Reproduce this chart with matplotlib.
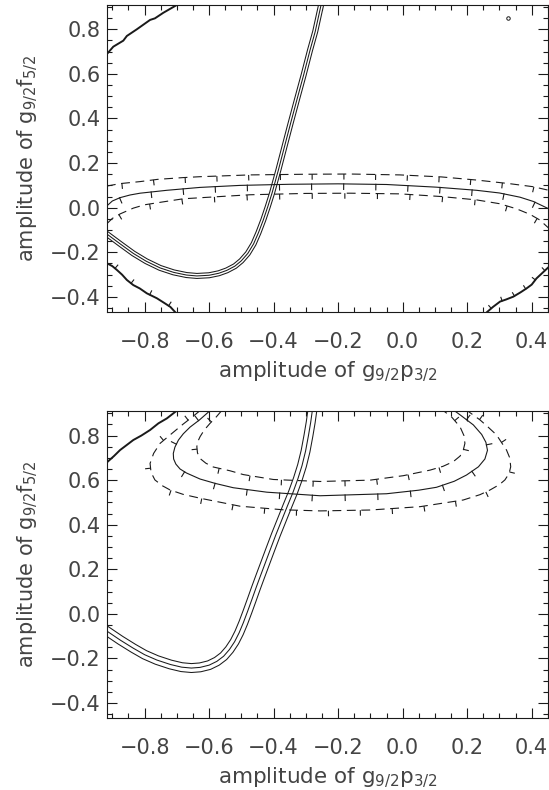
import matplotlib
matplotlib.use('Agg')
import matplotlib.pyplot as plt
import matplotlib.patheffects as pe
from matplotlib.ticker import MultipleLocator

plt.rcParams['font.family'] = ['DejaVu Sans']
plt.rcParams['mathtext.default'] = 'regular'
plt.rcParams['axes.unicode_minus'] = True

# ---- data: (x, y) along each contour ----
# upper panel
top_band_x = [-0.917, -0.875, -0.835, -0.795, -0.752, -0.710, -0.670, -0.638, -0.600, -0.570,
              -0.545, -0.520, -0.500, -0.480, -0.462, -0.447, -0.432, -0.418, -0.405, -0.385,
              -0.367, -0.348, -0.328, -0.307, -0.287, -0.271, -0.261, -0.252]
top_band_y = [-0.118, -0.163, -0.205, -0.240, -0.270, -0.290, -0.302, -0.306, -0.303, -0.294,
              -0.281, -0.262, -0.238, -0.205, -0.162, -0.112, -0.055, 0.005, 0.065, 0.170,
              0.270, 0.375, 0.483, 0.595, 0.707, 0.790, 0.856, 0.915]

top_solid_x = [-0.917, -0.900, -0.876, -0.845, -0.814, -0.731, -0.628, -0.504, -0.350, -0.200,
               -0.050, 0.105, 0.229, 0.300, 0.364, 0.405, 0.453]
top_solid_y = [0.008, 0.030, 0.045, 0.057, 0.065, 0.078, 0.091, 0.100, 0.105, 0.107,
               0.104, 0.092, 0.078, 0.066, 0.047, 0.028, -0.005]

top_outer_x = [-0.917, -0.876, -0.814, -0.760, -0.680, -0.628, -0.473, -0.300, -0.163, -0.008,
               0.120, 0.229, 0.330, 0.405, 0.453]
top_outer_y = [0.097, 0.108, 0.117, 0.127, 0.135, 0.139, 0.147, 0.150, 0.151, 0.147,
               0.138, 0.124, 0.108, 0.094, 0.078]

top_inner_x = [-0.917, -0.900, -0.876, -0.835, -0.800, -0.752, -0.680, -0.566, -0.473, -0.300,
               -0.163, -0.008, 0.120, 0.229, 0.300, 0.353, 0.395, 0.425, 0.453]
top_inner_y = [-0.072, -0.048, -0.028, -0.002, 0.013, 0.024, 0.040, 0.050, 0.058, 0.064,
               0.065, 0.062, 0.050, 0.035, 0.018, -0.005, -0.030, -0.055, -0.092]

top_corner_ul_x = [-0.915, -0.897, -0.866, -0.855, -0.824, -0.783, -0.768, -0.742, -0.700]
top_corner_ul_y = [0.692, 0.722, 0.749, 0.770, 0.800, 0.842, 0.849, 0.874, 0.909]

top_corner_ll_x = [-0.917, -0.900, -0.886, -0.870, -0.855, -0.835, -0.815, -0.793, -0.762,
                   -0.737, -0.720, -0.704]
top_corner_ll_y = [-0.249, -0.262, -0.279, -0.300, -0.324, -0.347, -0.362, -0.384, -0.406,
                   -0.429, -0.445, -0.470]

top_corner_lr_x = [0.260, 0.280, 0.302, 0.320, 0.343, 0.365, 0.384, 0.400, 0.415, 0.435, 0.455]
top_corner_lr_y = [-0.470, -0.445, -0.421, -0.412, -0.399, -0.380, -0.362, -0.345, -0.317,
                   -0.290, -0.263]

top_loop_x = [0.327]
top_loop_y = [0.849]

# lower panel
bot_band_x = [-0.917, -0.875, -0.835, -0.800, -0.762, -0.720, -0.685, -0.655, -0.628, -0.600,
              -0.576, -0.555, -0.537, -0.521, -0.507, -0.494, -0.481, -0.468, -0.455, -0.441,
              -0.426, -0.410, -0.393, -0.375, -0.357, -0.340, -0.325, -0.312, -0.301, -0.292,
              -0.285, -0.280]
bot_band_y = [-0.077, -0.118, -0.154, -0.183, -0.207, -0.227, -0.239, -0.243, -0.240, -0.230,
              -0.213, -0.190, -0.160, -0.125, -0.085, -0.040, 0.010, 0.062, 0.115, 0.170,
              0.228, 0.290, 0.355, 0.420, 0.485, 0.545, 0.605, 0.665, 0.730, 0.800,
              0.860, 0.912]

bot_solid_x = [-0.597, -0.630, -0.659, -0.680, -0.695, -0.706, -0.711, -0.710, -0.703, -0.690,
               -0.670, -0.628, -0.580, -0.525, -0.421, -0.256, -0.050, 0.050, 0.105, 0.160,
               0.198, 0.235, 0.255, 0.263, 0.258, 0.245, 0.219, 0.178, 0.160]
bot_solid_y = [0.912, 0.870, 0.838, 0.808, 0.780, 0.748, 0.720, 0.695, 0.672, 0.650,
               0.632, 0.605, 0.585, 0.566, 0.546, 0.530, 0.539, 0.555, 0.568, 0.595,
               0.623, 0.660, 0.695, 0.734, 0.770, 0.805, 0.848, 0.893, 0.912]

bot_outer_x = [-0.628, -0.655, -0.680, -0.715, -0.752, -0.772, -0.783, -0.780, -0.768, -0.745,
               -0.721, -0.680, -0.628, -0.504, -0.370, -0.256, -0.101, 0.054, 0.188, 0.240,
               0.271, 0.300, 0.317, 0.330, 0.335, 0.332, 0.322, 0.291, 0.265, 0.240, 0.200]
bot_outer_y = [0.912, 0.880, 0.852, 0.810, 0.765, 0.720, 0.675, 0.635, 0.601, 0.575,
               0.556, 0.536, 0.519, 0.483, 0.467, 0.462, 0.466, 0.481, 0.511, 0.535,
               0.556, 0.580, 0.601, 0.630, 0.660, 0.700, 0.735, 0.803, 0.838, 0.870, 0.912]

bot_inner_x = [-0.561, -0.580, -0.597, -0.615, -0.628, -0.636, -0.638, -0.636, -0.628, -0.610,
               -0.587, -0.535, -0.494, -0.401, -0.256, -0.101, 0.002, 0.085, 0.125, 0.157,
               0.178, 0.188, 0.193, 0.190, 0.178, 0.152, 0.126]
bot_inner_y = [0.912, 0.880, 0.855, 0.825, 0.795, 0.770, 0.750, 0.722, 0.697, 0.676,
               0.659, 0.642, 0.625, 0.603, 0.594, 0.600, 0.620, 0.645, 0.662, 0.683,
               0.708, 0.735, 0.765, 0.800, 0.839, 0.883, 0.912]

bot_corner_ul_x = [-0.915, -0.895, -0.876, -0.855, -0.835, -0.810, -0.783, -0.757, -0.731, -0.700]
bot_corner_ul_y = [0.682, 0.708, 0.735, 0.758, 0.780, 0.800, 0.825, 0.855, 0.877, 0.912]

LINE = '#1a1a1a'
TEXT = '#444444'


def band(ax, x, y, gap):
    # three parallel thin lines: black stroke, white core, black centre
    ax.plot(x, y, color=LINE, lw=0.75, zorder=2,
            path_effects=[pe.Stroke(linewidth=2 * gap + 0.75, foreground=LINE),
                          pe.Stroke(linewidth=2 * gap - 0.75, foreground='white'),
                          pe.Normal()])


def ticked(ax, x, y, dashed, angle=-90, spacing=22, length=0.18, lw=0.8):
    ls = (0, (8, 5)) if dashed else '-'
    ax.plot(x, y, color=LINE, lw=lw, ls=ls, zorder=3,
            path_effects=[pe.Normal(),
                          pe.TickedStroke(spacing=spacing, angle=angle, length=length,
                                          linewidth=0.8,
                                          dashes={'dash_offset': 0, 'dash_list': None})])


def setup(ax):
    ax.set_xlim(-0.9155, 0.452)
    ax.set_ylim(-0.469, 0.909)
    ax.xaxis.set_major_locator(MultipleLocator(0.2))
    ax.yaxis.set_major_locator(MultipleLocator(0.2))
    ax.xaxis.set_minor_locator(MultipleLocator(0.05))
    ax.yaxis.set_minor_locator(MultipleLocator(0.05))
    ax.tick_params(which='both', direction='in', top=True, right=True,
                   width=0.8, color=LINE, labelsize=15, labelcolor=TEXT)
    ax.tick_params(which='major', length=7)
    ax.tick_params(which='minor', length=3.5)
    ax.tick_params(axis='x', pad=14)
    ax.tick_params(axis='y', pad=5)
    ax.xaxis.set_major_formatter(lambda v, p: ('%.1f' % v).replace('-', '\u2212'))
    ax.yaxis.set_major_formatter(lambda v, p: ('%.1f' % v).replace('-', '\u2212'))
    for s in ax.spines.values():
        s.set_linewidth(0.8)
        s.set_color(LINE)
    ax.set_xlabel('amplitude of g$_{9/2}$p$_{3/2}$', fontsize=15.5, color=TEXT, labelpad=6)
    ax.set_ylabel('amplitude of g$_{9/2}$f$_{5/2}$', fontsize=15, color=TEXT, labelpad=7)


fig = plt.figure(figsize=(5.49, 7.90), dpi=100)
ax1 = fig.add_axes([0.1955, 0.6047, 0.8035, 0.3890])
ax2 = fig.add_axes([0.1955, 0.0906, 0.8035, 0.3888])

# upper panel
band(ax1, top_band_x, top_band_y, 1.8)
ticked(ax1, top_outer_x, top_outer_y, True)
ticked(ax1, top_solid_x, top_solid_y, False)
ticked(ax1, top_inner_x, top_inner_y, True)
ax1.plot(top_corner_ul_x, top_corner_ul_y, color=LINE, lw=1.4, zorder=3)
ticked(ax1, top_corner_ll_x, top_corner_ll_y, False, angle=90, spacing=14, length=0.22, lw=1.4)
ticked(ax1, top_corner_lr_x, top_corner_lr_y, False, angle=90, spacing=9, length=0.3, lw=1.4)
ax1.plot(top_loop_x, top_loop_y, 'o', ms=2.5, mfc='none', mec=LINE, mew=0.7)
setup(ax1)

# lower panel
band(ax2, bot_band_x, bot_band_y, 3.2)
ticked(ax2, bot_outer_x, bot_outer_y, True)
ticked(ax2, bot_solid_x, bot_solid_y, False)
ticked(ax2, bot_inner_x, bot_inner_y, True)
ax2.plot(bot_corner_ul_x, bot_corner_ul_y, color=LINE, lw=1.4, zorder=3)
setup(ax2)

fig.savefig('out.png', dpi=100)
